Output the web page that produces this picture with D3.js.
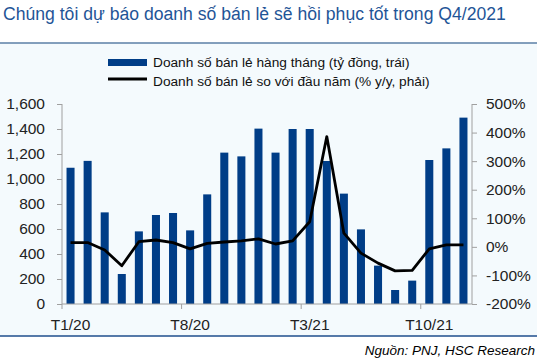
<!DOCTYPE html>
<html>
<head>
<meta charset="utf-8">
<script src="https://cdn.jsdelivr.net/npm/d3@7"></script>
<style>
  body { margin: 0; background: #fff; }
  svg { display: block; font-family: Arial, "Liberation Sans", sans-serif; }
</style>
</head>
<body>
<div id="chart"></div>
<script>
// tháng T1/20 .. T12/21
const months = [
  "T1/20","T2/20","T3/20","T4/20","T5/20","T6/20","T7/20","T8/20","T9/20","T10/20","T11/20","T12/20",
  "T1/21","T2/21","T3/21","T4/21","T5/21","T6/21","T7/21","T8/21","T9/21","T10/21","T11/21","T12/21"
];
// doanh số bán lẻ hàng tháng (tỷ đồng)
const sales = [1090, 1145, 733, 240, 581, 712, 728, 589, 877, 1211, 1181, 1403,
               1211, 1400, 1400, 1144, 883, 597, 307, 112, 187, 1152, 1245, 1491];
// % y/y
const yoy = [15, 15, -11, -66, 18, 24, 15, -7, 12, 17, 21, 28,
             10, 21, 88, 386, 48, -22, -57, -84, -82, -7, 7, 7];
const xLabels = ["T1/20", "T8/20", "T3/21", "T10/21"];
const leftTicks = [0, 200, 400, 600, 800, 1000, 1200, 1400, 1600];
const rightTicks = [-200, -100, 0, 100, 200, 300, 400, 500];

const width = 552, height = 364;
const svg = d3.select("#chart").append("svg")
  .attr("width", width).attr("height", height);

// nền
svg.append("rect").attr("x", 0).attr("y", 43).attr("width", 537).attr("height", 293)
  .attr("fill", "#f4fafd");
svg.append("line").attr("x1", 0).attr("x2", 537).attr("y1", 43).attr("y2", 43)
  .attr("stroke", "#5b7fa6").attr("stroke-width", 1.5);
svg.append("line").attr("x1", 0).attr("x2", 537).attr("y1", 336).attr("y2", 336)
  .attr("stroke", "#1f4e8c").attr("stroke-width", 1.5);

svg.append("text").attr("x", 3).attr("y", 20)
  .attr("font-size", 17.6).attr("fill", "#1f5597")
  .text("Chúng tôi dự báo doanh số bán lẻ sẽ hồi phục tốt trong Q4/2021");

svg.append("text").attr("x", 535).attr("y", 355).attr("text-anchor", "end")
  .attr("font-size", 13.5).attr("font-style", "italic").attr("fill", "#000")
  .text("Nguồn: PNJ, HSC Research");

// thang đo
const x = d3.scaleBand().domain(months).range([62, 472]).paddingInner(0.53).paddingOuter(0.265);
const yL = d3.scaleLinear().domain([0, 1600]).range([304, 104]);
const yR = d3.scaleLinear().domain([-200, 500]).range([304, 104]);
const step = x.step();

// cột
svg.append("g").selectAll("rect")
  .data(sales)
  .join("rect")
  .attr("x", (d, i) => x(months[i]))
  .attr("width", x.bandwidth())
  .attr("y", d => yL(d))
  .attr("height", d => yL(0) - yL(d))
  .attr("fill", "#003d87");

// đường
const line = d3.line()
  .x((d, i) => x(months[i]) + x.bandwidth() / 2)
  .y(d => yR(d));
svg.append("path").datum(yoy)
  .attr("d", line)
  .attr("fill", "none").attr("stroke", "#000").attr("stroke-width", 2.8)
  .attr("stroke-linejoin", "round");

const axisColor = "#a0a0a0";

// trục trái
const gl = svg.append("g").attr("transform", "translate(62,0)")
  .call(d3.axisLeft(yL).tickValues(leftTicks).tickSize(5).tickPadding(12).tickFormat(d3.format(",")));
gl.select(".domain").attr("stroke", axisColor).attr("d", "M0,104V304");
gl.selectAll(".tick line").attr("stroke", axisColor);
gl.selectAll("text").attr("font-size", 15.5).attr("fill", "#222").attr("font-family", null);

// trục phải
const gr = svg.append("g").attr("transform", "translate(472,0)")
  .call(d3.axisRight(yR).tickValues(rightTicks).tickSize(5).tickPadding(9).tickFormat(d => d + "%"));
gr.select(".domain").attr("stroke", axisColor).attr("d", "M0,104V304");
gr.selectAll(".tick line").attr("stroke", axisColor);
gr.selectAll("text").attr("font-size", 15.5).attr("fill", "#222").attr("font-family", null);

// trục hoành
const gx = svg.append("g").attr("transform", "translate(0,304)");
gx.append("line").attr("x1", 62).attr("x2", 472).attr("stroke", axisColor);
gx.selectAll("line.tk")
  .data(d3.range(0, months.length + 1, 7))
  .join("line").attr("class", "tk")
  .attr("x1", i => 62 + i * step).attr("x2", i => 62 + i * step)
  .attr("y1", 0).attr("y2", 5).attr("stroke", axisColor);
gx.selectAll("text")
  .data(xLabels)
  .join("text")
  .attr("x", d => x(d) + x.bandwidth() / 2)
  .attr("y", 26)
  .attr("text-anchor", "middle")
  .attr("font-size", 15.5).attr("fill", "#222")
  .text(d => d);

// chú thích
const lg = svg.append("g");
lg.append("rect").attr("x", 108).attr("y", 59).attr("width", 39).attr("height", 7).attr("fill", "#003d87");
lg.append("line").attr("x1", 108).attr("x2", 147).attr("y1", 79).attr("y2", 79)
  .attr("stroke", "#000").attr("stroke-width", 3);
lg.append("text").attr("x", 153).attr("y", 67).attr("font-size", 13.7).attr("fill", "#111")
  .text("Doanh số bán lẻ hàng tháng (tỷ đồng, trái)");
lg.append("text").attr("x", 153).attr("y", 86).attr("font-size", 13.7).attr("fill", "#111")
  .text("Doanh số bán lẻ so với đầu năm (% y/y, phải)");
</script>
</body>
</html>
